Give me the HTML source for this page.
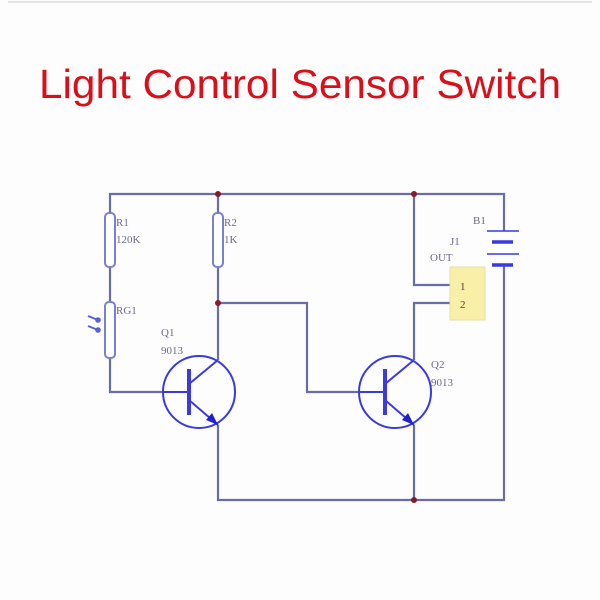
<!DOCTYPE html>
<html><head><style>body{margin:0;background:#fff}svg{display:block}</style></head><body>
<svg width="600" height="600" viewBox="0 0 600 600" xmlns="http://www.w3.org/2000/svg">
<rect width="600" height="600" fill="#fdfdfd"/>
<line x1="8" y1="2" x2="592" y2="2" stroke="#e4e4e4" stroke-width="2"/>
<text x="300" y="98" text-anchor="middle" font-family="Liberation Sans, sans-serif" font-size="41" fill="#d9101a" textLength="522" lengthAdjust="spacingAndGlyphs">Light Control Sensor Switch</text>
<g stroke="#6a6ca4" stroke-width="2.2" fill="none">
<polyline points="110,213 110,194 504,194 504,231"/>
<line x1="110" y1="267" x2="110" y2="302"/>
<polyline points="110,358 110,392 163,392"/>
<line x1="218" y1="194" x2="218" y2="213"/>
<line x1="218" y1="267" x2="218" y2="360"/>
<polyline points="218,303 307,303 307,392 359,392"/>
<polyline points="218,425 218,500 504,500 504,265"/>
<polyline points="414,194 414,285 450,285"/>
<polyline points="450,303 414,303 414,360"/>
<line x1="414" y1="425" x2="414" y2="500"/>
</g>
<g fill="#8a1a2a"><circle cx="218" cy="194" r="3"/><circle cx="414" cy="194" r="3"/><circle cx="218" cy="303" r="3"/><circle cx="414" cy="500" r="3"/></g>
<g stroke="#7a80d0" stroke-width="2" fill="#fff">
<rect x="105" y="213" width="10" height="54" rx="4"/>
<rect x="213" y="213" width="10" height="54" rx="4"/>
<rect x="105" y="302" width="10" height="56" rx="4"/>
</g>
<g stroke="#5a60d8" stroke-width="2" fill="#5a60d8">
<line x1="88" y1="316" x2="98" y2="320"/><circle cx="98" cy="320" r="1.8"/>
<line x1="88" y1="326" x2="98" y2="330"/><circle cx="98" cy="330" r="1.8"/>
</g>
<g stroke="#3a3ae0" fill="none">
<circle cx="199" cy="392" r="36" stroke-width="2"/>
<line x1="189" y1="369" x2="189" y2="415" stroke-width="4"/>
<line x1="163" y1="392" x2="189" y2="392" stroke-width="2"/>
<line x1="189" y1="384" x2="218" y2="360" stroke-width="2"/>
<line x1="189" y1="400" x2="218" y2="425" stroke-width="2"/>
<circle cx="395" cy="392" r="36" stroke-width="2"/>
<line x1="385" y1="369" x2="385" y2="415" stroke-width="4"/>
<line x1="359" y1="392" x2="385" y2="392" stroke-width="2"/>
<line x1="385" y1="384" x2="414" y2="360" stroke-width="2"/>
<line x1="385" y1="400" x2="414" y2="425" stroke-width="2"/>
</g>
<polygon points="218,425 206,420 212,413" fill="#2020d0"/>
<polygon points="414,425 402,420 408,413" fill="#2020d0"/>
<g stroke="#3a3ae0">
<line x1="487" y1="231" x2="519" y2="231" stroke-width="1.5"/>
<line x1="492" y1="242" x2="513" y2="242" stroke-width="3.5"/>
<line x1="487" y1="254" x2="519" y2="254" stroke-width="1.5"/>
<line x1="492" y1="265" x2="513" y2="265" stroke-width="3.5"/>
</g>
<rect x="450" y="267" width="35" height="53" fill="#f8f0a8" stroke="#e8e0a0"/>
<g font-family="Liberation Serif, serif" font-size="11" fill="#6a6a8a">
<text x="116" y="226">R1</text><text x="116" y="243">120K</text>
<text x="224" y="226">R2</text><text x="224" y="243">1K</text>
<text x="116" y="314">RG1</text>
<text x="161" y="336">Q1</text><text x="161" y="354">9013</text>
<text x="431" y="368">Q2</text><text x="431" y="386">9013</text>
<text x="473" y="224">B1</text>
<text x="450" y="245">J1</text><text x="430" y="261">OUT</text>
<text x="460" y="290" fill="#444">1</text><text x="460" y="308" fill="#444">2</text>
</g>
</svg>
</body></html>
